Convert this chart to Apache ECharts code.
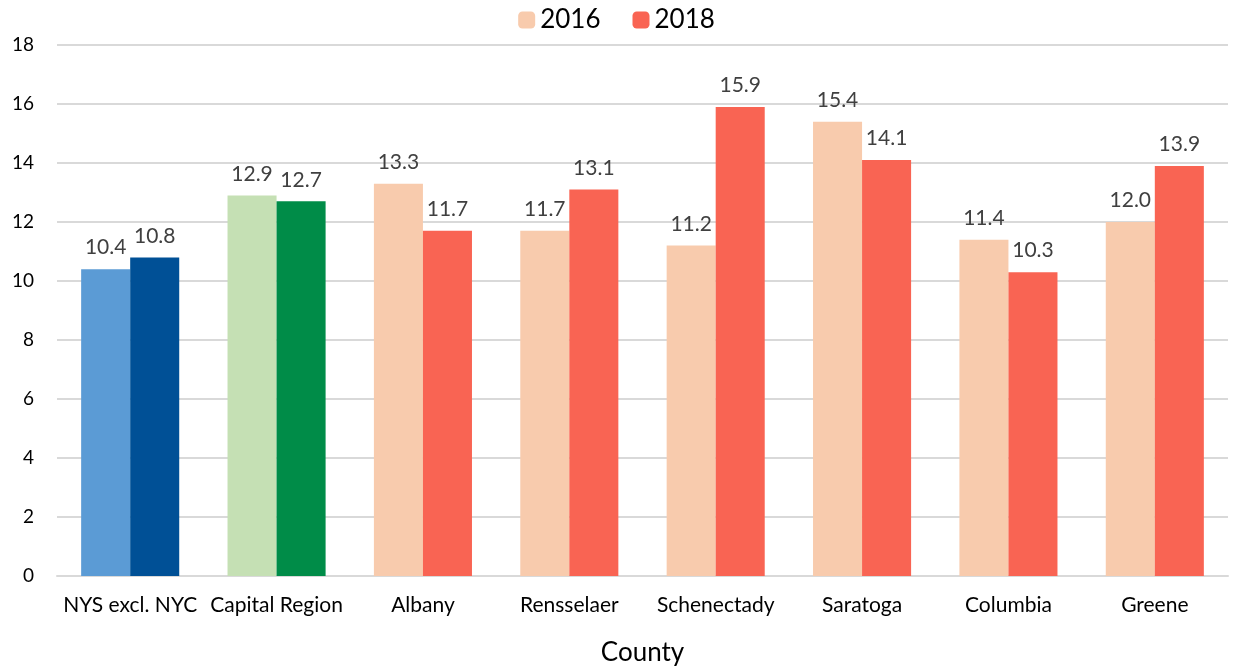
<!DOCTYPE html>
<html>
<head>
<meta charset="utf-8">
<script src="https://cdn.jsdelivr.net/npm/echarts@6/dist/echarts.min.js"></script>
<style>
  html, body { margin: 0; padding: 0; background: #fff; }
  #container { width: 1233px; height: 669px; }
</style>
</head>
<body>
<div id="container"></div>
<script>
const categories = ['NYS excl. NYC', 'Capital Region', 'Albany', 'Rensselaer', 'Schenectady', 'Saratoga', 'Columbia', 'Greene'];
const values2016 = [10.4, 12.9, 13.3, 11.7, 11.2, 15.4, 11.4, 12.0];
const values2018 = [10.8, 12.7, 11.7, 13.1, 15.9, 14.1, 10.3, 13.9];

const COLOR_2016 = '#F8CBAD';
const COLOR_2018 = '#F96453';
// first two groups use their own colours
const special2016 = ['#5B9BD5', '#C5E0B4'];
const special2018 = ['#005096', '#008C48'];

const FONT = 'Lato, "Open Sans", sans-serif';

function buildData(values, special) {
    return values.map(function (v, i) {
        if (i < special.length) {
            return { value: v, itemStyle: { color: special[i] } };
        }
        return v;
    });
}

let dom = document.getElementById('container');
let myChart = echarts.init(dom);

const labelStyle = {
    show: true,
    position: 'top',
    distance: 11,
    color: '#404040',
    fontSize: 21,
    fontFamily: FONT,
    formatter: function (p) {
        return Number(p.value).toFixed(1);
    }
};

let option = {
    backgroundColor: '#fff',
    animation: false,
    textStyle: { fontFamily: FONT },
    legend: {
        top: 2,
        left: 'center',
        itemWidth: 17,
        itemHeight: 17,
        itemGap: 32,
        textStyle: { fontSize: 26, color: '#000', fontFamily: FONT },
        data: ['2016', '2018']
    },
    grid: {
        left: 57,
        right: 5,
        top: 45,
        bottom: 93,
        containLabel: false,
        outerBoundsMode: 'none'
    },
    xAxis: {
        type: 'category',
        data: categories,
        name: 'County',
        nameLocation: 'middle',
        nameGap: 64,
        nameTextStyle: { fontSize: 26, color: '#000', fontFamily: FONT },
        axisLine: { lineStyle: { color: '#d9d9d9', width: 2 } },
        axisTick: { show: false },
        axisLabel: { fontSize: 21, color: '#000', margin: 19, fontFamily: FONT, interval: 0 }
    },
    yAxis: {
        type: 'value',
        min: 0,
        max: 18,
        interval: 2,
        axisLine: { show: false },
        axisTick: { show: false },
        axisLabel: { fontSize: 19, color: '#000', margin: 23, fontFamily: FONT },
        splitLine: { lineStyle: { color: '#d9d9d9', width: 2 } }
    },
    series: [
        {
            name: '2016',
            type: 'bar',
            barGap: '0%',
            barCategoryGap: '33%',
            itemStyle: { color: COLOR_2016 },
            label: labelStyle,
            data: buildData(values2016, special2016)
        },
        {
            name: '2018',
            type: 'bar',
            itemStyle: { color: COLOR_2018 },
            label: labelStyle,
            data: buildData(values2018, special2018)
        }
    ]
};

myChart.setOption(option, true);
window.addEventListener('resize', function () {
    myChart.resize();
});
</script>
</body>
</html>
